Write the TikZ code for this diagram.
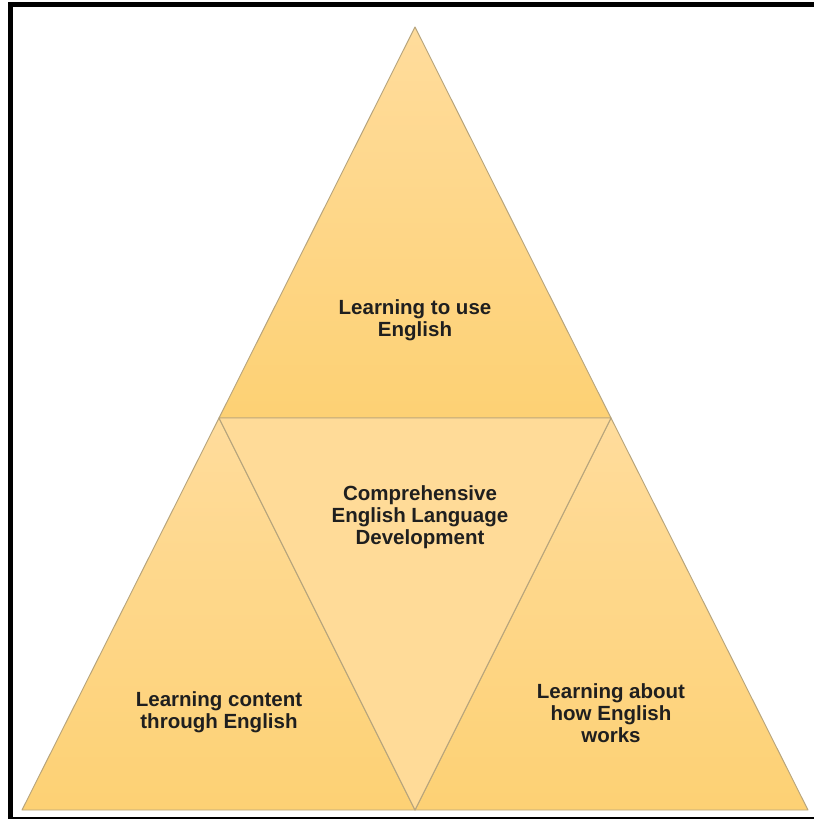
\documentclass[tikz,border=0pt]{standalone}
\usepackage{fontspec}
\setmainfont{Liberation Sans}
\usetikzlibrary{calc}
\definecolor{sandtop}{HTML}{FFDC9C}
\definecolor{sandbot}{HTML}{FDD174}
\definecolor{sandmid}{HTML}{FFDB98}
\definecolor{edgecol}{HTML}{B7A47C}
\tikzset{part/.style = {draw=edgecol, line width=0.8pt, line join=round, top color=sandtop, bottom color=sandbot}}
\tikzset{core/.style = {draw=edgecol, line width=0.8pt, line join=round, fill=sandmid}}
\tikzset{parttext/.style = {align=center, font=\bfseries\fontsize{17.5}{18.8}\selectfont, text=black!88}}

\begin{document}
\begin{tikzpicture}[x=0.03cm, y=-0.03cm]
    \useasboundingbox (0,0) rectangle (814,819);
    \fill[white] (0,0) rectangle (814,819);

    % frame
    \draw[line width=4.4pt] (10.7,819) -- (10.7,4.7) -- (814,4.7);
    \draw[line width=2.2pt] (10.7,817.8) -- (814,817.8);

    % corners of the big triangle
    \coordinate (top) at (415,27);
    \coordinate (lft) at (22,810);
    \coordinate (rgt) at (808,810);
    \coordinate (bot) at (415,810);
    \coordinate (ml) at (219,418);
    \coordinate (mr) at (611,418);

    \draw[part] (top) -- (ml) -- (mr) -- cycle;
    \draw[part] (ml) -- (lft) -- (bot) -- cycle;
    \draw[part] (mr) -- (bot) -- (rgt) -- cycle;
    \draw[core] (ml) -- (mr) -- (bot) -- cycle;

    \node[parttext] (use) at (415,320) {Learning to use\\English};
    \node[parttext] (whole) at (420,517) {Comprehensive\\English Language\\Development};
    \node[parttext] (content) at (219,712) {Learning content\\through English};
    \node[parttext] (about) at (611,713) {Learning about\\how English\\works};
\end{tikzpicture}
\end{document}
